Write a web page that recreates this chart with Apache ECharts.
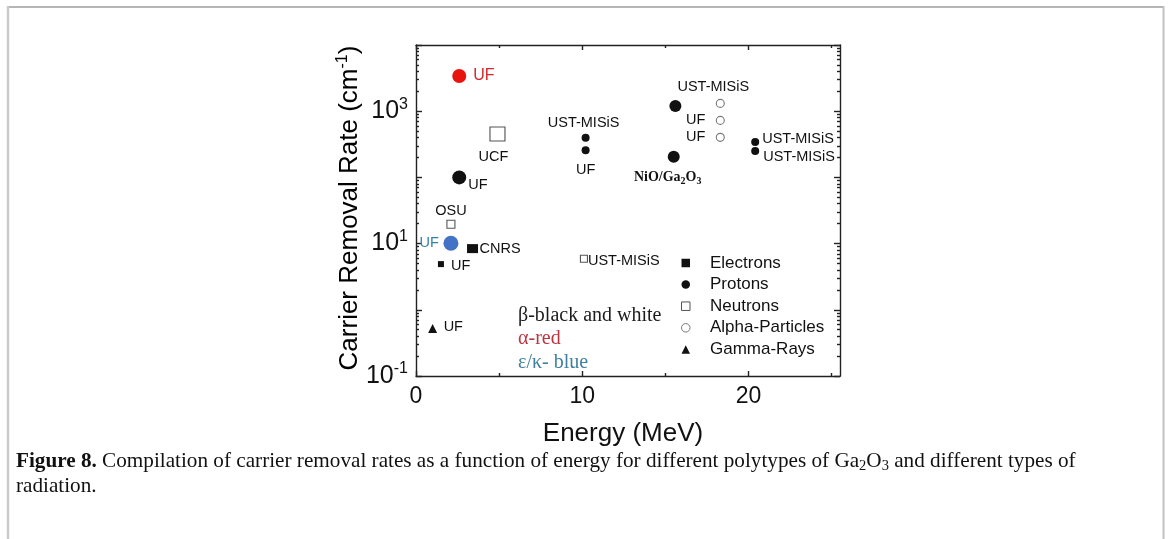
<!DOCTYPE html>
<html>
<head>
<meta charset="utf-8">
<script src="https://cdn.jsdelivr.net/npm/echarts@6/dist/echarts.min.js"></script>
<style>
  html, body { margin: 0; padding: 0; background: #fff; }
  #chart { width: 1168px; height: 539px; }
</style>
</head>
<body>
<div id="chart"></div>
<script>
// ---- Carrier removal rate (cm^-1) vs. particle energy (MeV) ----

// Electron irradiation
const electronEnergy = [1.5, 3.4];
const electronRate = [4.9, 8.4];
const electronLab = ['UF', 'CNRS'];
const electronPolytype = ['β', 'β'];

// Proton irradiation
const protonEnergy = [2.6, 2.6, 2.1, 10.2, 10.2, 15.6, 15.5, 20.4, 20.4];
const protonRate = [3400, 100, 10.1, 397, 256, 1194, 205, 342, 250];
const protonLab = ['UF', 'UF', 'UF', 'UST-MISiS', 'UF', '', 'NiO/Ga2O3', 'UST-MISiS', 'UST-MISiS'];
const protonPolytype = ['α', 'β', 'ε/κ', 'β', 'β', 'β', 'β', 'β', 'β'];

// Neutron irradiation
const neutronEnergy = [4.9, 2.1, 10.1];
const neutronRate = [452, 19.6, 5.9];
const neutronLab = ['UCF', 'OSU', 'UST-MISiS'];

// Alpha-particle irradiation
const alphaEnergy = [18.3, 18.3, 18.3];
const alphaRate = [1312, 726, 403];
const alphaLab = ['UST-MISiS', 'UF', 'UF'];

// Gamma-ray irradiation
const gammaEnergy = [1.0];
const gammaRate = [0.52];
const gammaLab = ['UF'];

// Axis ticks
const xMajorTicks = [0, 10, 20];
const xMinorTicks = [5, 15, 25];
const yDecades = [0.1, 1, 10, 100, 1000, 10000];
const yLabelled = [0.1, 10, 1000];
const legendNames = ['Electrons', 'Protons', 'Neutrons', 'Alpha-Particles', 'Gamma-Rays'];

// ---- styling ----
const INK = '#111';
const markerColor = { 'α': '#e8120f', 'β': INK, 'ε/κ': '#4472c4' };
const textColor = { 'α': '#d8262a', 'β': INK, 'ε/κ': '#3683a8' };
const SANS = 'Liberation Sans, Arial, sans-serif';
const SERIF = 'Liberation Serif, Times New Roman, serif';

// symbol sizes and label placements: [align, dx, dy]
const electronSize = [[6, 6], [11, 9]];
const electronPlace = [['left', 10, 2], ['left', 7, 0]];
const protonSize = [14, 14, 15, 8, 8, 12, 12, 8, 8];
const protonPlace = [['left', 14, 0], ['left', 9, 8], ['right', -12, 0], ['center', -2, -15],
  ['center', 0, 20], ['left', 0, 0], ['center', -6, 21], ['left', 7, -3], ['left', 8, 6]];
const neutronSize = [[15, 14], 8, 7];
const neutronPlace = [['center', -4, 23], ['center', 0, -13], ['left', 4, 2]];
const alphaPlace = [['center', -7, -16], ['right', -15, 0], ['right', -15, 0]];
const gammaPlace = [['left', 11, -2]];

const subRich = {
  n: { fontFamily: SERIF, fontWeight: 'bold', fontSize: 14, lineHeight: 18, color: INK },
  s: { fontFamily: SERIF, fontWeight: 'bold', fontSize: 10, verticalAlign: 'bottom', color: INK }
};

function labelText(t) {
  if (t === 'NiO/Ga2O3') return '{n|NiO/Ga}{s|2}{n|O}{s|3}';
  return t;
}

function buildData(xs, ys, labs, sizes, places, polys) {
  return xs.map((x, i) => {
    const poly = polys ? polys[i] : 'β';
    const size = Array.isArray(sizes) ? sizes[i] : sizes;
    const p = places[i];
    return {
      name: labs[i],
      value: [x, ys[i]],
      symbolSize: size,
      itemStyle: polys ? { color: markerColor[poly], opacity: 1 } : undefined,
      label: {
        show: labs[i] !== '',
        position: 'inside',
        align: p[0],
        verticalAlign: 'middle',
        offset: [p[1], p[2]],
        formatter: labelText(labs[i]),
        color: textColor[poly],
        fontFamily: SANS,
        fontSize: (poly === 'α') ? 16 : 14.5,
        rich: subRich
      }
    };
  });
}

const yMinorTicks = [];
for (let k = -1; k <= 3; k++) {
  for (let m = 2; m <= 9; m++) yMinorTicks.push(+(m * Math.pow(10, k)).toPrecision(3));
}

const AX = { color: '#222', width: 1.4 };
function xAxisDef(pos, ticks, len, withLine, withLabels) {
  return {
    type: 'value', position: pos, min: 0, max: 25.5, interval: 5,
    axisLine: { show: withLine, onZero: false, lineStyle: AX },
    axisTick: { show: true, inside: true, length: len, customValues: ticks, lineStyle: AX },
    axisLabel: withLabels ? {
      show: true, customValues: ticks, margin: 9, fontSize: 23, fontFamily: SANS, color: INK
    } : { show: false },
    splitLine: { show: false }
  };
}
function yAxisDef(pos, ticks, len, withLine, withLabels) {
  return {
    type: 'log', logBase: 10, position: pos, min: 0.1, max: 10000,
    axisLine: { show: withLine, onZero: false, lineStyle: AX },
    axisTick: { show: true, inside: true, length: len, customValues: ticks, lineStyle: AX },
    axisLabel: withLabels ? {
      show: true, customValues: yLabelled, margin: 8,
      formatter: v => '{b|10}{s|' + Math.round(Math.log10(v)) + '}',
      rich: {
        b: { fontSize: 25, fontFamily: SANS, color: INK, lineHeight: 30 },
        s: { fontSize: 16, fontFamily: SANS, color: INK, verticalAlign: 'top' }
      }
    } : { show: false },
    splitLine: { show: false }
  };
}

const chart = echarts.init(document.getElementById('chart'), null, { renderer: 'canvas' });

chart.setOption({
  backgroundColor: '#fff',
  animation: false,
  grid: { left: 416, right: 328, top: 45, bottom: 163, containLabel: false },
  xAxis: [
    xAxisDef('bottom', xMajorTicks, 5, true, true),
    xAxisDef('bottom', xMinorTicks, 3, false, false),
    xAxisDef('top', xMajorTicks, 5, true, false),
    xAxisDef('top', xMinorTicks, 3, false, false)
  ],
  yAxis: [
    yAxisDef('left', yDecades, 6, true, true),
    yAxisDef('left', yMinorTicks, 3, false, false),
    yAxisDef('right', yDecades, 6, true, false),
    yAxisDef('right', yMinorTicks, 3, false, false)
  ],
  legend: {
    data: legendNames,
    orient: 'vertical',
    left: 676, top: 249,
    itemWidth: 8.5, itemHeight: 8.5, itemGap: 3.6,
    selectedMode: false,
    itemStyle: { borderWidth: 1 },
    textStyle: { fontFamily: SANS, fontSize: 17, lineHeight: 18, color: INK, padding: [0, 0, 0, 15] }
  },
  series: [
    {
      name: 'Electrons', type: 'scatter', symbol: 'rect',
      itemStyle: { color: INK, opacity: 1 },
      data: buildData(electronEnergy, electronRate, electronLab, electronSize, electronPlace, electronPolytype)
    },
    {
      name: 'Protons', type: 'scatter', symbol: 'circle',
      itemStyle: { color: INK, opacity: 1 },
      data: buildData(protonEnergy, protonRate, protonLab, protonSize, protonPlace, protonPolytype)
    },
    {
      name: 'Neutrons', type: 'scatter', symbol: 'rect',
      itemStyle: { color: '#fff', borderColor: '#555', borderWidth: 1.1, opacity: 1 },
      data: buildData(neutronEnergy, neutronRate, neutronLab, neutronSize, neutronPlace)
    },
    {
      name: 'Alpha-Particles', type: 'scatter', symbol: 'circle',
      itemStyle: { color: '#fff', borderColor: '#777', borderWidth: 1.1, opacity: 1 },
      data: buildData(alphaEnergy, alphaRate, alphaLab, 8, alphaPlace)
    },
    {
      name: 'Gamma-Rays', type: 'scatter', symbol: 'triangle',
      itemStyle: { color: INK, opacity: 1 },
      data: buildData(gammaEnergy, gammaRate, gammaLab, 9, gammaPlace)
    }
  ],
  graphic: [
    // page frame
    { type: 'line', shape: { x1: 7, y1: 7, x2: 1164, y2: 7 }, style: { stroke: '#b5b5b5', lineWidth: 2 } },
    { type: 'line', shape: { x1: 8, y1: 6, x2: 8, y2: 539 }, style: { stroke: '#cacaca', lineWidth: 2.5 } },
    { type: 'line', shape: { x1: 1163.5, y1: 6, x2: 1163.5, y2: 539 }, style: { stroke: '#c2c2c2', lineWidth: 2 } },
    // axis titles
    {
      type: 'text', x: 350, y: 208, rotation: Math.PI / 2,
      style: {
        text: '{t|Carrier Removal Rate (cm}{s|-1}{t|)}',
        align: 'center', verticalAlign: 'middle',
        rich: {
          t: { fontFamily: SANS, fontSize: 26, color: INK, lineHeight: 30 },
          s: { fontFamily: SANS, fontSize: 16, color: INK, verticalAlign: 'top' }
        }
      }
    },
    {
      type: 'text', x: 623, y: 434,
      style: { text: 'Energy (MeV)', font: '26px ' + SANS, fill: INK, align: 'center', verticalAlign: 'middle' }
    },
    // polytype colour key
    { type: 'text', x: 518, y: 316, style: { text: 'β-black and white', font: '20px ' + SERIF, fill: '#1c1c1c', verticalAlign: 'middle' } },
    { type: 'text', x: 518, y: 339, style: { text: 'α-red', font: '20px ' + SERIF, fill: '#b9353f', verticalAlign: 'middle' } },
    { type: 'text', x: 518, y: 363, style: { text: 'ε/κ- blue', font: '20px ' + SERIF, fill: '#3f7f9f', verticalAlign: 'middle' } },
    // figure caption
    {
      type: 'text', x: 16, y: 449,
      style: {
        text: '{b|Figure 8.}{r| Compilation of carrier removal rates as a function of energy for different polytypes of Ga}{s|2}{r|O}{s|3}{r| and different types of}\n{r|radiation.}',
        rich: {
          b: { fontFamily: SERIF, fontWeight: 'bold', fontSize: 21.2, lineHeight: 25, fill: '#111' },
          r: { fontFamily: SERIF, fontSize: 21.2, lineHeight: 25, fill: '#111' },
          s: { fontFamily: SERIF, fontSize: 14.5, lineHeight: 25, fill: '#111', verticalAlign: 'bottom' }
        }
      }
    }
  ]
});
</script>
</body>
</html>
